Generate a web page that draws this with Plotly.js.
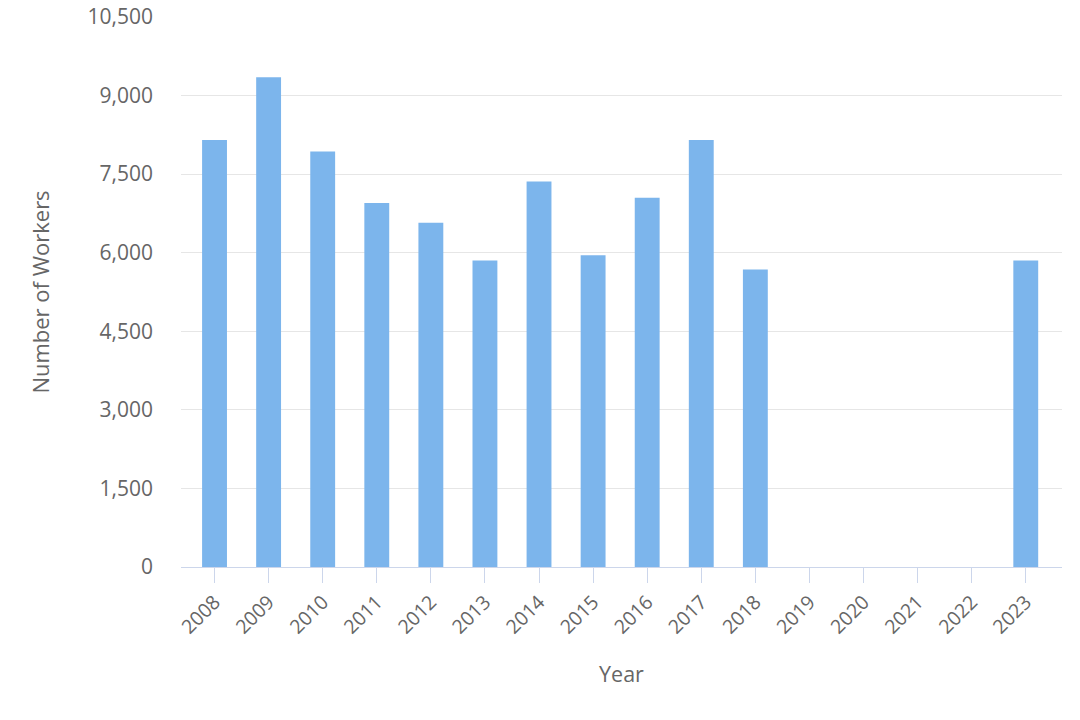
<!DOCTYPE html>
<html>
<head>
<meta charset="utf-8">
<script src="https://cdn.plot.ly/plotly-3.0.1.min.js"></script>
<style>html,body{margin:0;padding:0;background:#fff;}#chart{width:1080px;height:720px;}</style>
</head>
<body>
<div id="chart"></div>
<script>
const years = ["2008","2009","2010","2011","2012","2013","2014","2015","2016","2017","2018","2019","2020","2021","2022","2023"];
const workers = [8150, 9350, 7930, 6950, 6570, 5850, 7360, 5950, 7050, 8150, 5680, 0, 0, 0, 0, 5850];
const yTicks = [0, 1500, 3000, 4500, 6000, 7500, 9000, 10500];

const fontFam = '"Open Sans", "Noto Sans", sans-serif';
const trace = {
  type: 'bar',
  x: years,
  y: workers,
  marker: {color: '#7cb5ec'},
  hoverinfo: 'x+y'
};
const layout = {
  width: 1080, height: 720,
  margin: {l: 181, r: 18, t: 17, b: 153},
  paper_bgcolor: '#ffffff', plot_bgcolor: '#ffffff',
  bargap: 0.54,
  showlegend: false,
  font: {family: fontFam, color: '#666666', size: 19},
  xaxis: {
    type: 'category',
    range: [-0.62, 15.67],
    tickangle: -45,
    ticks: 'outside', ticklen: 15, tickcolor: '#ccd6eb', tickwidth: 1,
    showline: true, linecolor: '#ccd6eb', linewidth: 1,
    showgrid: false, zeroline: false,
    tickfont: {family: fontFam, size: 19.5, color: '#666666'},
    title: {text: 'Year', font: {family: fontFam, size: 21.5, color: '#666666'}, standoff: 28},
    automargin: false
  },
  yaxis: {
    range: [0, 10500],
    tickvals: yTicks,
    tickformat: ',d',
    showgrid: true, gridcolor: '#e6e6e6', gridwidth: 1,
    zeroline: false, showline: false,
    ticks: '', ticklabelstandoff: 27,
    tickfont: {family: fontFam, size: 21, color: '#666666'},
    title: {text: 'Number of Workers', font: {family: fontFam, size: 22, color: '#666666'}, standoff: 31},
    automargin: false
  }
};
Plotly.newPlot('chart', [trace], layout, {displayModeBar: false, staticPlot: true});
</script>
</body>
</html>
